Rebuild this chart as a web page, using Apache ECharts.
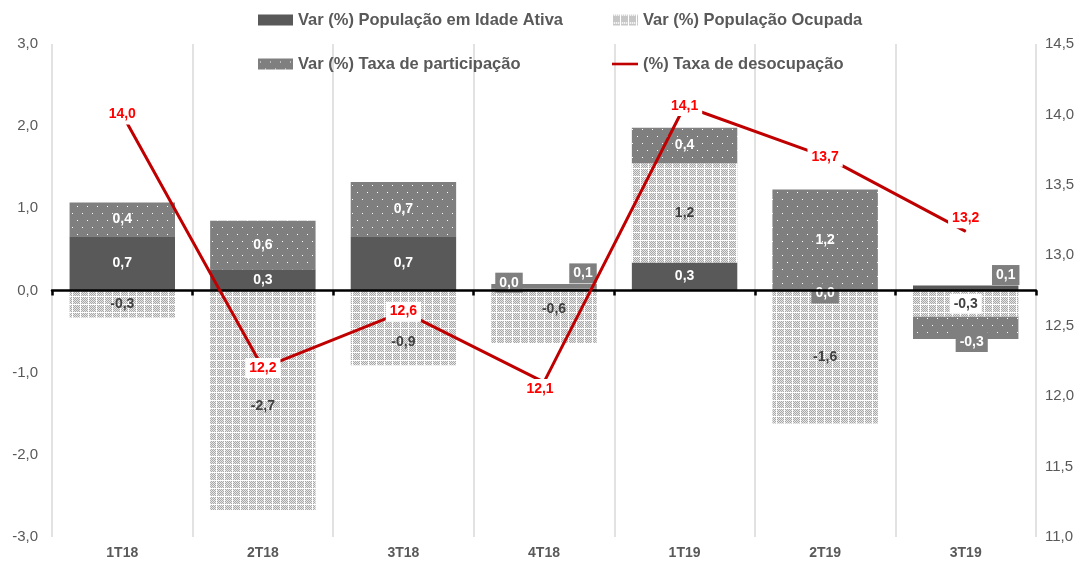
<!DOCTYPE html>
<html>
<head>
<meta charset="utf-8">
<script src="https://cdn.jsdelivr.net/npm/echarts@6/dist/echarts.min.js"></script>
<style>
html,body{margin:0;padding:0;background:#fff;}
#chart{width:1082px;height:565px;}
</style>
</head>
<body>
<div id="chart"></div>
<script>
// ---- data ----
const categories = ['1T18', '2T18', '3T18', '4T18', '1T19', '2T19', '3T19'];
const piaValues = [0.66, 0.26, 0.66, 0.02, 0.34, 0.0, 0.06];
const ocupadaValues = [-0.33, -2.67, -0.91, -0.64, 1.21, -1.62, -0.32];
const taxaPartValues = [0.41, 0.59, 0.66, 0.06, 0.43, 1.23, -0.27];
const desocupValues = [14.0, 12.2, 12.6, 12.1, 14.06, 13.7, 13.17];
const leftAxisTicks = { min: -3, max: 3, interval: 1 };
const rightAxisTicks = { min: 11, max: 14.5, interval: 0.5 };
const seriesNames = [
  'Var (%) População em Idade Ativa',
  'Var (%) População Ocupada',
  'Var (%) Taxa de participação',
  '(%) Taxa de desocupação'
];

// ---- patterns ----
function makeOcupadaPattern() {
  const c = document.createElement('canvas');
  c.width = 8; c.height = 8;
  const g = c.getContext('2d');
  g.fillStyle = '#ffffff';
  g.fillRect(0, 0, 8, 8);
  for (let x = 0; x < 8; x++) {
    for (let y = 0; y < 8; y++) {
      if (x === 0 || y === 0) continue;
      if ((x + y) % 2 === 0) { g.fillStyle = '#a8a8a8'; g.fillRect(x, y, 1, 1); }
      else { g.fillStyle = '#e6e6e6'; g.fillRect(x, y, 1, 1); }
    }
  }
  return c;
}
function makeTaxaPattern() {
  const c = document.createElement('canvas');
  c.width = 10; c.height = 14;
  const g = c.getContext('2d');
  g.fillStyle = '#7f7f7f';
  g.fillRect(0, 0, 10, 14);
  g.fillStyle = '#ffffff';
  g.fillRect(2, 3, 1, 1);
  g.fillRect(7, 10, 1, 1);
  return c;
}
const ocupadaColor = { image: makeOcupadaPattern(), repeat: 'repeat' };
const taxaColor = { image: makeTaxaPattern(), repeat: 'repeat' };

const fmt = v => v.toFixed(1).replace('.', ',');
const FONT = 'Liberation Sans';

const boxLabel = (offset) => ({
  backgroundColor: '#7f7f7f', padding: [3, 4], offset: offset, color: '#fff'
});

// per-point label tweaks (position only)
const piaLabelTweaks = { 3: boxLabel([-35, -7]), 5: boxLabel([0, 3]), 6: boxLabel([40, -13]) };
const ocupadaLabelTweaks = {
  1: { offset: [0, 6] }, 2: { offset: [0, 14] }, 3: { offset: [10, -8] },
  6: { backgroundColor: '#fff', padding: [3, 4] }
};
const taxaLabelTweaks = { 3: boxLabel([39, -13]), 6: boxLabel([6, 14]) };
const lineLabelTweaks = { 3: { offset: [-4, 7] }, 6: { offset: [0, -13] } };

function build(values, tweaks) {
  return values.map((v, i) => tweaks[i] ? { value: v, label: tweaks[i] } : v);
}

const legendText = { fontSize: 16.5, fontWeight: 'bold', color: '#595959', lineHeight: 20, fontFamily: FONT };

const chart = echarts.init(document.getElementById('chart'));
const option = {
  backgroundColor: '#ffffff',
  animation: false,
  textStyle: { fontFamily: FONT },
  grid: { left: 52, right: 46, top: 44, bottom: 28, containLabel: false },
  legend: [
    {
      data: [{ name: seriesNames[0], icon: 'rect' }, { name: seriesNames[2], icon: 'rect' }],
      orient: 'vertical', left: 258, top: 10, padding: 0,
      itemWidth: 35, itemHeight: 11, itemGap: 24,
      textStyle: legendText
    },
    {
      data: [{ name: seriesNames[1], icon: 'rect' }, { name: seriesNames[3], icon: 'path://M0,0 L30,0 L30,3 L0,3 Z' }],
      orient: 'vertical', left: 612, top: 10, padding: 0,
      itemWidth: 26, itemHeight: 11, itemGap: 24,
      textStyle: legendText
    }
  ],
  xAxis: [
    {
      type: 'category', data: categories, position: 'bottom',
      axisLine: { show: false, onZero: false },
      axisTick: { show: false },
      axisLabel: { color: '#595959', fontWeight: 'bold', fontSize: 14, margin: 9, fontFamily: FONT },
      splitLine: { show: true, lineStyle: { color: '#d9d9d9', width: 1.5 } }
    },
    {
      type: 'category', data: categories, position: 'bottom', z: 3,
      axisLine: { show: true, onZero: true, onZeroAxisIndex: 0, lineStyle: { color: '#000', width: 2.5 } },
      axisTick: { show: true, length: 5, lineStyle: { color: '#000', width: 2.5 } },
      axisLabel: { show: false },
      splitLine: { show: false }
    }
  ],
  yAxis: [
    {
      type: 'value', min: leftAxisTicks.min, max: leftAxisTicks.max, interval: leftAxisTicks.interval,
      axisLine: { show: false }, axisTick: { show: false }, splitLine: { show: false },
      axisLabel: { color: '#595959', fontSize: 15, margin: 14, formatter: fmt, fontFamily: FONT }
    },
    {
      type: 'value', min: rightAxisTicks.min, max: rightAxisTicks.max, interval: rightAxisTicks.interval,
      axisLine: { show: false }, axisTick: { show: false }, splitLine: { show: false },
      axisLabel: { color: '#595959', fontSize: 15, margin: 9, formatter: fmt, fontFamily: FONT }
    }
  ],
  series: [
    {
      name: seriesNames[0], type: 'bar', stack: 'total', barWidth: '75%', z: 2,
      itemStyle: { color: '#595959' },
      label: { show: true, position: 'inside', color: '#ffffff', fontWeight: 'bold', fontSize: 14,
               formatter: p => fmt(p.value), fontFamily: FONT },
      data: build(piaValues, piaLabelTweaks)
    },
    {
      name: seriesNames[1], type: 'bar', stack: 'total', barWidth: '75%', z: 2,
      itemStyle: { color: ocupadaColor },
      label: { show: true, position: 'inside', color: '#404040', fontWeight: 'bold', fontSize: 14,
               formatter: p => fmt(p.value), fontFamily: FONT },
      data: build(ocupadaValues, ocupadaLabelTweaks)
    },
    {
      name: seriesNames[2], type: 'bar', stack: 'total', barWidth: '75%', z: 2,
      itemStyle: { color: taxaColor },
      label: { show: true, position: 'inside', color: '#ffffff', fontWeight: 'bold', fontSize: 14,
               formatter: p => fmt(p.value), fontFamily: FONT },
      data: build(taxaPartValues, taxaLabelTweaks)
    },
    {
      name: seriesNames[3], type: 'line', yAxisIndex: 1, xAxisIndex: 0, z: 5,
      symbol: 'circle', symbolSize: 1, showSymbol: true,
      itemStyle: { color: '#c00000' },
      lineStyle: { color: '#c00000', width: 3 },
      label: { show: true, position: 'inside', color: '#ff0000', fontWeight: 'bold', fontSize: 14,
               backgroundColor: '#ffffff', padding: [3, 4],
               formatter: p => fmt(p.value), fontFamily: FONT },
      data: build(desocupValues, lineLabelTweaks)
    }
  ]
};
chart.setOption(option);
</script>
</body>
</html>
